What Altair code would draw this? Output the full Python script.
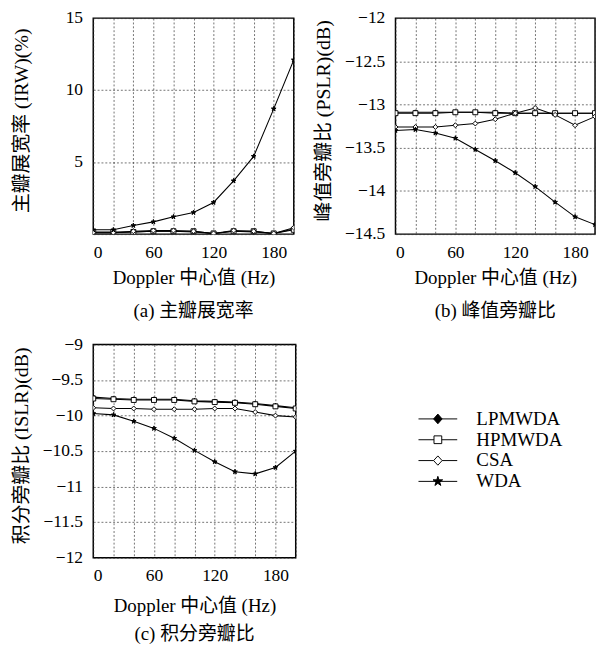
import altair as alt
import pandas as pd

doppler = [0, 20, 40, 60, 80, 100, 120, 140, 160, 180, 200]
methods = ["LPMWDA", "HPMWDA", "CSA", "WDA"]

lp_irw = [0.1, 0.1, 0.15, 0.2, 0.2, 0.15, 0.05, 0.2, 0.15, 0.05, 0.35]
hp_irw = [0.15, 0.15, 0.15, 0.2, 0.2, 0.2, 0.05, 0.2, 0.2, 0.05, 0.3]
csa_irw = [0.1, 0.1, 0.2, 0.25, 0.25, 0.2, 0.05, 0.25, 0.2, 0.05, 0.45]
wda_irw = [0.3, 0.3, 0.6, 0.85, 1.2, 1.5, 2.2, 3.7, 5.4, 8.7, 12.1]

lp_pslr = [-13.09, -13.09, -13.09, -13.09, -13.09, -13.09, -13.10, -13.10, -13.10, -13.10, -13.10]
hp_pslr = [-13.10, -13.10, -13.10, -13.09, -13.09, -13.10, -13.10, -13.10, -13.10, -13.10, -13.10]
csa_pslr = [-13.26, -13.26, -13.26, -13.24, -13.22, -13.17, -13.10, -13.04, -13.12, -13.24, -13.14]
wda_pslr = [-13.30, -13.29, -13.33, -13.39, -13.52, -13.65, -13.79, -13.95, -14.13, -14.30, -14.39]

lp_islr = [-9.74, -9.76, -9.77, -9.77, -9.77, -9.79, -9.80, -9.81, -9.83, -9.86, -9.89]
hp_islr = [-9.76, -9.77, -9.78, -9.78, -9.78, -9.80, -9.81, -9.82, -9.84, -9.87, -9.90]
csa_islr = [-9.89, -9.90, -9.90, -9.91, -9.91, -9.91, -9.90, -9.90, -9.95, -10.00, -10.02]
wda_islr = [-9.97, -9.99, -10.08, -10.18, -10.32, -10.49, -10.65, -10.79, -10.82, -10.73, -10.50]

FONT = "Liberation Serif, Noto Sans CJK SC"
FS = 18
FT = 19.5
FY = 20.5
STAR = ("M0,-1L0.2245,-0.309L0.951,-0.309L0.363,0.118L0.588,0.809L0,0.382"
        "L-0.588,0.809L-0.363,0.118L-0.951,-0.309L-0.2245,-0.309Z")
STAR_L = ("M-5,0L5,0M0,-1.3L0.29,-0.4L1.24,-0.4L0.47,0.15L0.76,1.05L0,0.5"
          "L-0.76,1.05L-0.47,0.15L-1.24,-0.4L-0.29,-0.4Z")
LEG_PATHS = [
    "M-5,0L5,0M0,-1.25L1.1,0L0,1.25L-1.1,0Z",
    "M-5,0L-1,0M1,0L5,0M-1,-1L1,-1L1,1L-1,1Z",
    "M-5,0L-1.1,0M1.1,0L5,0M0,-1.2L1.1,0L0,1.2L-1.1,0Z",
    STAR_L,
]
FILLS = ["black", "white", "white", "black"]
STROKES = ["black", "black", "black", "black"]


def long_df(series):
    rows = []
    for m, vals in zip(methods, series):
        for d, v in zip(doppler, vals):
            rows.append({"doppler": d, "value": v, "method": m, "lg": m})
    return pd.DataFrame(rows)


def panel(df, ytitle, ydomain, yvalues, caption, width, height, hide_zero=False, legend=False,
          xtitle_pad=8, cap_off=16):
    x = alt.X(
        "doppler:Q",
        scale=alt.Scale(domain=[0, 200], nice=False),
        axis=alt.Axis(
            values=list(range(0, 201, 20)),
            labelExpr="datum.value % 60 === 0 ? datum.label : ''",
            title="Doppler 中心值 (Hz)",
            titlePadding=xtitle_pad,
        ),
    )
    yaxis = dict(values=yvalues, format=".1~f", title=ytitle, titleX=-74, titleY=height / 2 - 6,
                 titleBaseline="middle", titleFontSize=FY)
    if hide_zero:
        yaxis["labelExpr"] = "datum.value === 0 ? '' : datum.label"
    y = alt.Y("value:Q", scale=alt.Scale(domain=ydomain, nice=False, zero=False), axis=alt.Axis(**yaxis))
    lines = alt.Chart(df).mark_line(color="black", strokeWidth=1.1, clip=True).encode(
        x=x, y=y, detail="method:N"
    )
    pts = alt.Chart(df).mark_point(
        filled=True, stroke="black", strokeWidth=1, size=26, opacity=1, clip=True
    ).encode(
        x=x,
        y=y,
        shape=alt.Shape("method:N", scale=alt.Scale(domain=methods, range=["diamond", "square", "diamond", STAR]), legend=None),
        fill=alt.Fill("method:N", scale=alt.Scale(domain=methods, range=FILLS), legend=None),
    )
    layers = [lines, pts]
    if legend:
        leg = alt.Legend(
            title=None, orient="none", legendX=346, legendY=67, symbolSize=64,
            symbolStrokeColor="black", symbolStrokeWidth=1, symbolOpacity=1,
            labelFont=FONT, labelFontSize=FT, labelColor="black", labelOffset=30,
            rowPadding=0.5,
        )
        dummy = alt.Chart(df).mark_point(filled=True, opacity=0).encode(
            x=x,
            y=y,
            shape=alt.Shape("lg:N", scale=alt.Scale(domain=methods, range=LEG_PATHS), legend=leg),
            fill=alt.Fill("lg:N", scale=alt.Scale(domain=methods, range=FILLS), legend=leg),
            stroke=alt.Stroke("lg:N", scale=alt.Scale(domain=methods, range=STROKES), legend=leg),
        )
        layers.append(dummy)
    ch = alt.layer(*layers).properties(
        width=width,
        height=height,
        title=alt.TitleParams(caption, orient="bottom", font=FONT, fontSize=FT, fontWeight="normal",
                              color="black", anchor="middle", frame="group", offset=cap_off),
    )
    if legend:
        ch = ch.resolve_scale(shape="independent", fill="independent", stroke="independent")
    return ch


a = panel(long_df([lp_irw, hp_irw, csa_irw, wda_irw]), "主瓣展宽率 (IRW)(%)", [0, 15], [0, 5, 10, 15],
          "(a) 主瓣展宽率", 207, 223, hide_zero=True)
b = panel(long_df([lp_pslr, hp_pslr, csa_pslr, wda_pslr]), "峰值旁瓣比 (PSLR)(dB)", [-14.5, -12],
          [-14.5, -14, -13.5, -13, -12.5, -12], "(b) 峰值旁瓣比", 206, 223)
c = panel(long_df([lp_islr, hp_islr, csa_islr, wda_islr]), "积分旁瓣比 (ISLR)(dB)", [-12, -9],
          [-12, -11.5, -11, -10.5, -10, -9.5, -9], "(c) 积分旁瓣比", 209, 220, legend=True,
          xtitle_pad=13, cap_off=10)

top = alt.hconcat(a, b, spacing=19)
chart = alt.vconcat(top, c, spacing=14).properties(
    padding={"left": 3, "top": -10, "right": 0, "bottom": 0}
).configure_view(
    stroke="black", strokeWidth=1.5
).configure_axis(
    labelFont=FONT, labelFontSize=FS, labelColor="black", labelPadding=11,
    titleFont=FONT, titleFontSize=FT, titleFontWeight="normal", titleColor="black",
    domain=False, ticks=False, gridDash=[2, 2], gridColor="#333", gridWidth=0.7,
).configure_axisX(
    labelPadding=10,
)

chart.save("out.html", embed_options={"renderer": "svg", "actions": False})
